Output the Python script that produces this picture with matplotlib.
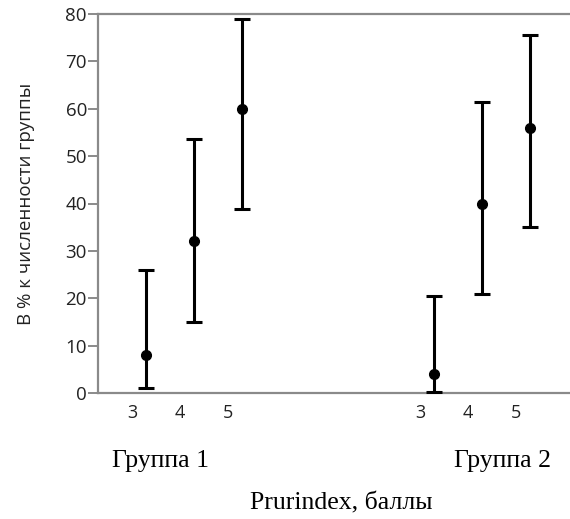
import matplotlib
matplotlib.use('Agg')
import matplotlib.pyplot as plt

# data
scores = ['3', '4', '5']
g1_x = [1, 2, 3]
g2_x = [7, 8, 9]
g1_mean = [8, 32, 60]
g1_low = [1, 15, 38.8]
g1_high = [26, 53.6, 79]
g2_mean = [4, 40, 56]
g2_low = [0.3, 21, 35]
g2_high = [20.4, 61.4, 75.6]

fig = plt.figure(figsize=(5.70, 5.19), dpi=100)
ax = fig.add_axes([98 / 570, 126 / 519, 472 / 570, 379 / 519])

gray = '#8a8a8a'
for xs, m, lo, hi in [(g1_x, g1_mean, g1_low, g1_high), (g2_x, g2_mean, g2_low, g2_high)]:
    yerr = [[a - b for a, b in zip(m, lo)], [b - a for a, b in zip(m, hi)]]
    ax.errorbar(xs, m, yerr=yerr, fmt='o', color='black', ecolor='black',
                markersize=7, elinewidth=2.2, capsize=5.5, capthick=2.2, zorder=3)

ax.set_xlim(0, 472 / 48)
ax.set_ylim(0, 80)
ax.set_yticks(range(0, 81, 10))
ax.set_xticks([])
for s in ['top', 'left', 'bottom']:
    ax.spines[s].set_color(gray)
    ax.spines[s].set_linewidth(1.6)
ax.spines['right'].set_visible(False)
ax.tick_params(axis='y', length=7, width=1.4, color=gray, labelsize=13.5,
               labelcolor='#222222', pad=1)
for lab in ax.get_yticklabels():
    lab.set_family('Open Sans')

ax.set_ylabel('В % к численности группы', fontsize=13.5, family='Open Sans',
              color='#222222', labelpad=22)

# score labels under each group
for xs in (g1_x, g2_x):
    for x, s in zip(xs, scores):
        ax.text(x - 0.29, -4.2, s, ha='center', va='center', fontsize=13,
                family='Open Sans', color='#222222', clip_on=False)

fig.text(161 / 570, 1 - 461 / 519, 'Группа 1', ha='center', va='center',
         fontsize=18.5, family='Liberation Serif')
fig.text(503 / 570, 1 - 461 / 519, 'Группа 2', ha='center', va='center',
         fontsize=18.5, family='Liberation Serif')
fig.text(341 / 570, 1 - 503 / 519, 'Prurindex, баллы', ha='center', va='center',
         fontsize=18.5, family='Liberation Serif')

fig.savefig('out.png', dpi=100)
